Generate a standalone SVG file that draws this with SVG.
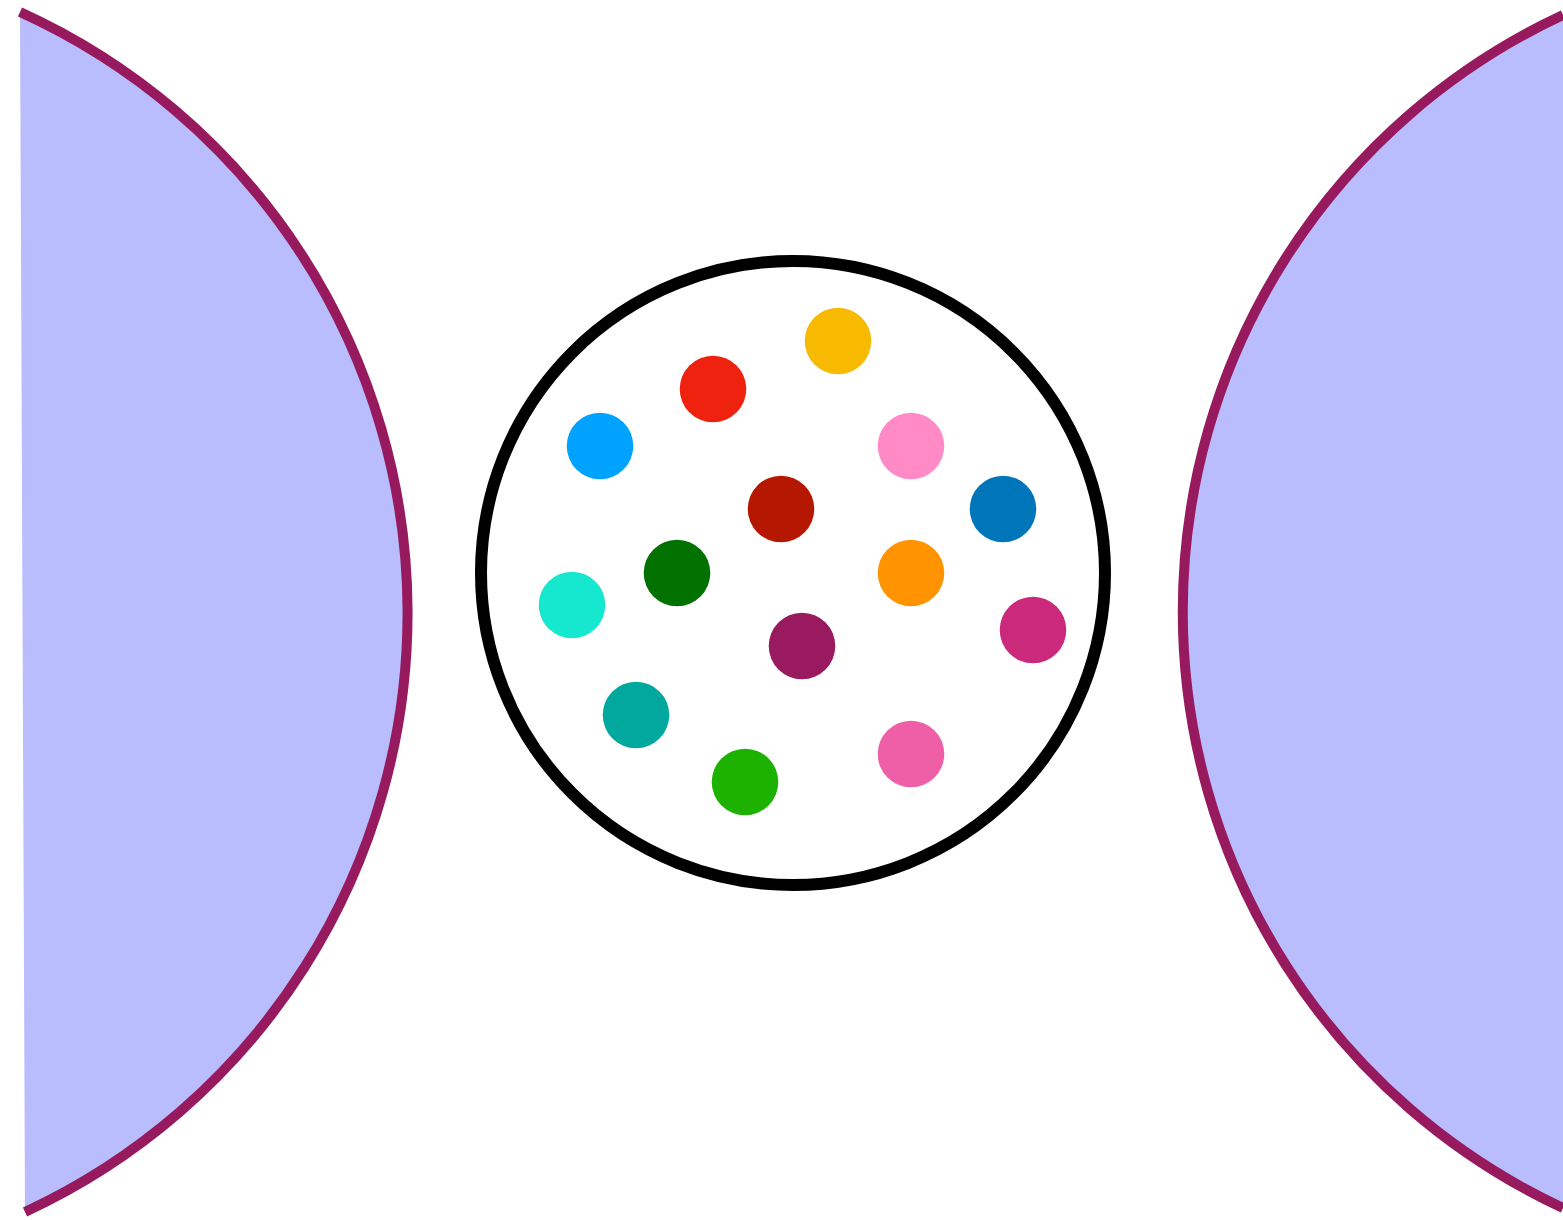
<svg xmlns="http://www.w3.org/2000/svg" width="1563" height="1220" viewBox="0 0 1563 1220">
<style>
.lens{fill:#B9BCFD;stroke:none}
.arc{fill:none;stroke:#981A5E;stroke-width:10}
.ring{fill:#FFFFFF;stroke:#000000;stroke-width:12}
.dot{stroke:none}
</style>
<rect width="1563" height="1220" fill="#FFFFFF"/>
<g id="left-lens">
<path class="lens" d="M20,12 A660,660 0 0 1 25,1212 Z"/>
<path class="arc" d="M20,12 A660,660 0 0 1 25,1212"/>
</g>
<g id="right-lens">
<path class="lens" d="M1563,15 A658,658 0 0 0 1563,1208 Z"/>
<path class="arc" d="M1563,15 A658,658 0 0 0 1563,1208"/>
</g>
<g id="circle">
<circle class="ring" cx="793" cy="573" r="312"/>
</g>
<g id="dots">
<circle class="dot" cx="838" cy="341" r="33.3" fill="#F7BA00"/>
<circle class="dot" cx="713" cy="389" r="33.3" fill="#EE220E"/>
<circle class="dot" cx="600" cy="446" r="33.3" fill="#00A2FF"/>
<circle class="dot" cx="911" cy="446" r="33.3" fill="#FF8AC6"/>
<circle class="dot" cx="781" cy="509" r="33.3" fill="#B51700"/>
<circle class="dot" cx="1003" cy="509" r="33.3" fill="#0076BA"/>
<circle class="dot" cx="677" cy="573" r="33.3" fill="#017100"/>
<circle class="dot" cx="911" cy="573" r="33.3" fill="#FF9300"/>
<circle class="dot" cx="572" cy="605" r="33.3" fill="#16E7CF"/>
<circle class="dot" cx="1033" cy="630" r="33.3" fill="#CB297B"/>
<circle class="dot" cx="802" cy="646" r="33.3" fill="#991A5E"/>
<circle class="dot" cx="636" cy="715" r="33.3" fill="#00A89D"/>
<circle class="dot" cx="745" cy="782" r="33.3" fill="#1DB100"/>
<circle class="dot" cx="911" cy="754" r="33.3" fill="#EF5FA7"/>
</g>
</svg>
